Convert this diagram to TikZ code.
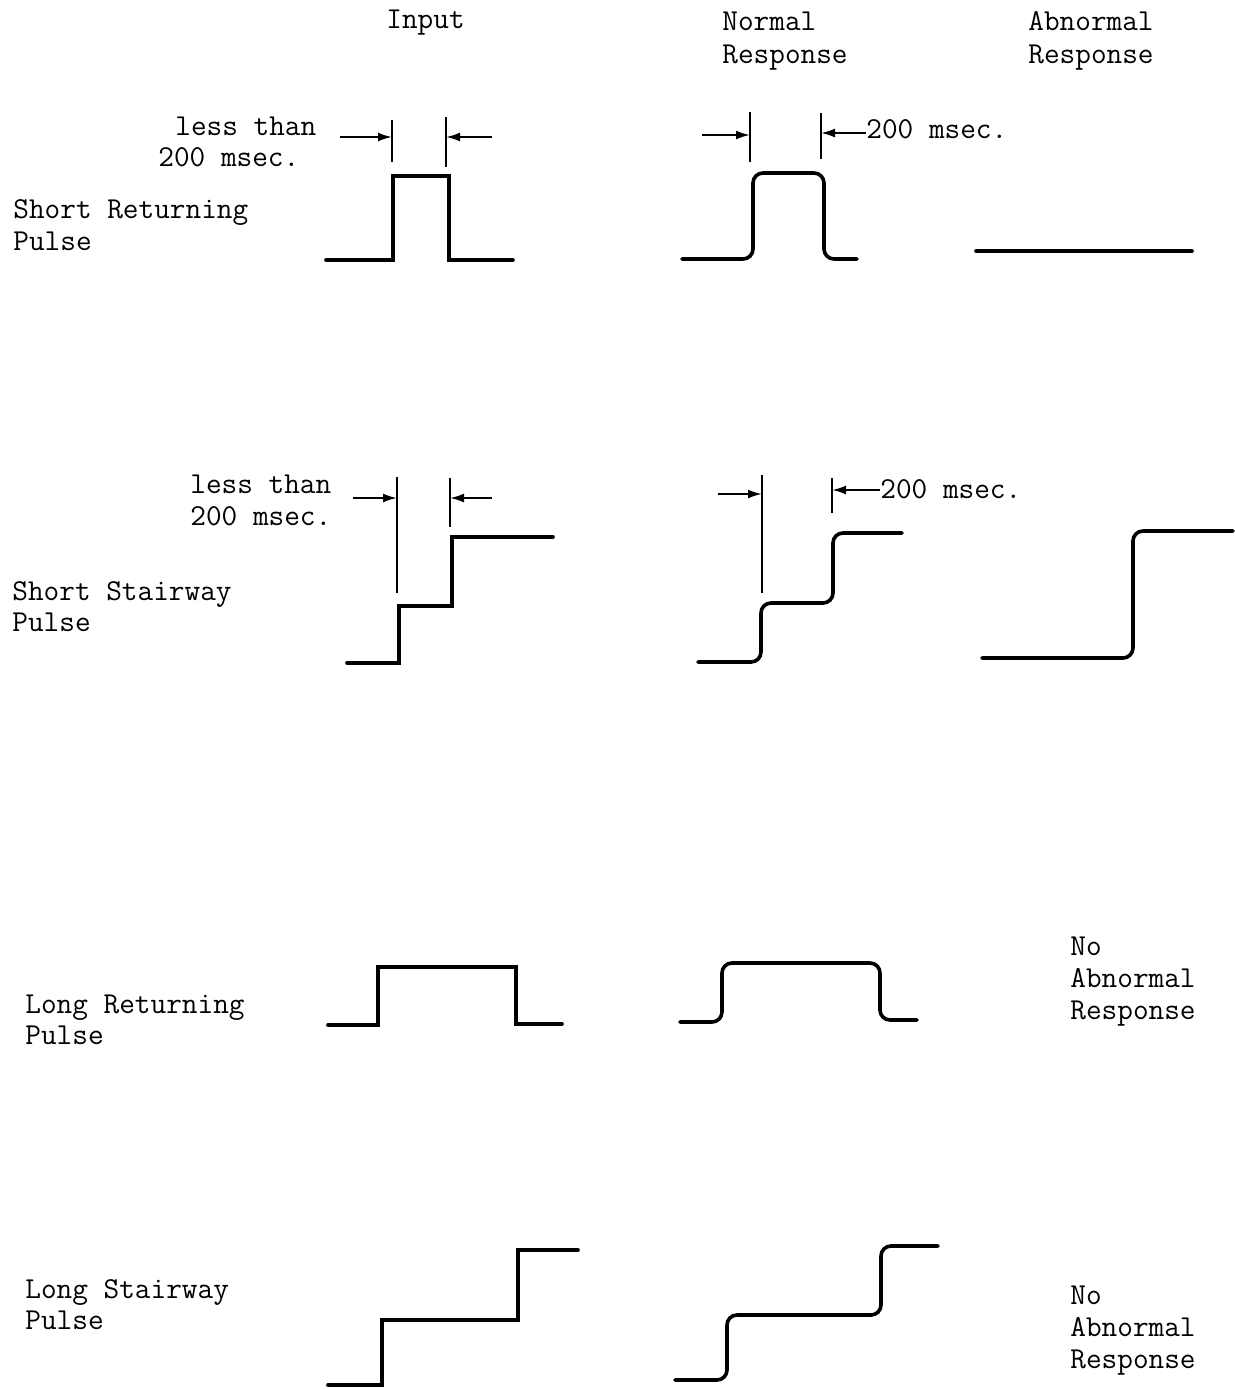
\documentclass[tikz,border=0pt]{standalone}
\usepackage{fontspec}
\usetikzlibrary{arrows.meta}
\tikzset{
  lbl/.style={anchor=base west, inner sep=0pt, font=\ttfamily\fontsize{15.2}{16}\selectfont},
  wave/.style={line width=1.8pt, line cap=round, line join=miter},
  rwave/.style={wave, rounded corners=5pt},
  tick/.style={line width=1pt},
  dimarrow/.style={line width=1pt, -{Latex[length=7pt,width=4.5pt]}}
}
\begin{document}
\begin{tikzpicture}[x=0.5pt,y=-0.5pt]
\useasboundingbox (0,0) rectangle (1235,1389);
% headers
\node[lbl] (hin) at (386,28) {Input};
\node[lbl] (hn1) at (722,30) {Normal};
\node[lbl] (hn2) at (722,63) {Response};
\node[lbl] (ha1) at (1028,30) {Abnormal};
\node[lbl] (ha2) at (1028,63) {Response};

% ---------- Row 1: Short Returning Pulse
\node[lbl] (r1a) at (13,218) {Short Returning};
\node[lbl] (r1b) at (13,250) {Pulse};
\node[lbl] (r1l1) at (175,135) {less than};
\node[lbl] (r1l2) at (158,166) {200 msec.};
\draw[wave] (326,260) -- (393,260) -- (393,176) -- (449,176) -- (449,260) -- (513,260);
\coordinate (t1a) at (392,120); \coordinate (t1b) at (392,162);
\coordinate (t1c) at (446,117); \coordinate (t1d) at (446,167);
\draw[tick] (t1a) -- (t1b);
\draw[tick] (t1c) -- (t1d);
\coordinate (a1s) at (340,137); \coordinate (a1e) at (392,137);
\coordinate (a1t) at (492,137); \coordinate (a1f) at (446,137);
\draw[dimarrow] (a1s) -- (a1e);
\draw[dimarrow] (a1t) -- (a1f);
% normal
\draw[rwave] (682,259) -- (753,259) -- (753,173) -- (824,173) -- (824,259) -- (857,259);
\coordinate (t2a) at (750,112); \coordinate (t2b) at (750,162);
\coordinate (t2c) at (821,113); \coordinate (t2d) at (821,159);
\draw[tick] (t2a) -- (t2b);
\draw[tick] (t2c) -- (t2d);
\coordinate (a2s) at (702,135); \coordinate (a2e) at (750,135);
\node[lbl] (r1m) at (866,138) {200 msec.};
\coordinate (a2f) at (821,133);
\draw[dimarrow] (r1m.west |- a2f) -- (a2f);
\draw[dimarrow] (a2s) -- (a2e);
% abnormal
\draw[wave] (976,251) -- (1192,251);

% ---------- Row 2: Short Stairway Pulse
\node[lbl] (r2a) at (12,600) {Short Stairway};
\node[lbl] (r2b) at (12,631) {Pulse};
\node[lbl] (r2l1) at (190,493) {less than};
\node[lbl] (r2l2) at (190,525) {200 msec.};
\draw[wave] (347,663) -- (399,663) -- (399,606) -- (452,606) -- (452,537) -- (553,537);
\coordinate (t3a) at (397,477); \coordinate (t3b) at (397,593);
\coordinate (t3c) at (450,478); \coordinate (t3d) at (450,527);
\draw[tick] (t3a) -- (t3b);
\draw[tick] (t3c) -- (t3d);
\coordinate (a3s) at (353,498); \coordinate (a3e) at (397,498);
\coordinate (a3t) at (492,498); \coordinate (a3f) at (450,498);
\draw[dimarrow] (a3s) -- (a3e);
\draw[dimarrow] (a3t) -- (a3f);
% normal
\draw[rwave] (698,662) -- (761,662) -- (761,603) -- (833,603) -- (833,533) -- (902,533);
\coordinate (t4a) at (762,475); \coordinate (t4b) at (762,593);
\coordinate (t4c) at (832,478); \coordinate (t4d) at (832,513);
\draw[tick] (t4a) -- (t4b);
\draw[tick] (t4c) -- (t4d);
\coordinate (a4s) at (718,494); \coordinate (a4e) at (762,494);
\node[lbl] (r2m) at (880,498) {200 msec.};
\coordinate (a4f) at (832,490);
\draw[dimarrow] (a4s) -- (a4e);
\draw[dimarrow] (r2m.west |- a4f) -- (a4f);
% abnormal
\draw[rwave] (982,658) -- (1133,658) -- (1133,531) -- (1233,531);

% ---------- Row 3: Long Returning Pulse
\node[lbl] (r3a) at (25,1013) {Long Returning};
\node[lbl] (r3b) at (25,1044) {Pulse};
\draw[wave] (328,1025) -- (378,1025) -- (378,967) -- (516,967) -- (516,1024) -- (562,1024);
\draw[rwave] (680,1022) -- (722,1022) -- (722,963) -- (880,963) -- (880,1020) -- (917,1020);
\node[lbl] (r3n1) at (1070,955) {No};
\node[lbl] (r3n2) at (1070,987) {Abnormal};
\node[lbl] (r3n3) at (1070,1019) {Response};

% ---------- Row 4: Long Stairway Pulse
\node[lbl] (r4a) at (25,1298) {Long Stairway};
\node[lbl] (r4b) at (25,1329) {Pulse};
\draw[wave] (328,1385) -- (382,1385) -- (382,1320) -- (518,1320) -- (518,1250) -- (578,1250);
\draw[rwave] (675,1380) -- (727,1380) -- (727,1315) -- (881,1315) -- (881,1246) -- (938,1246);
\node[lbl] (r4n1) at (1070,1304) {No};
\node[lbl] (r4n2) at (1070,1336) {Abnormal};
\node[lbl] (r4n3) at (1070,1368) {Response};
\end{tikzpicture}
\end{document}
